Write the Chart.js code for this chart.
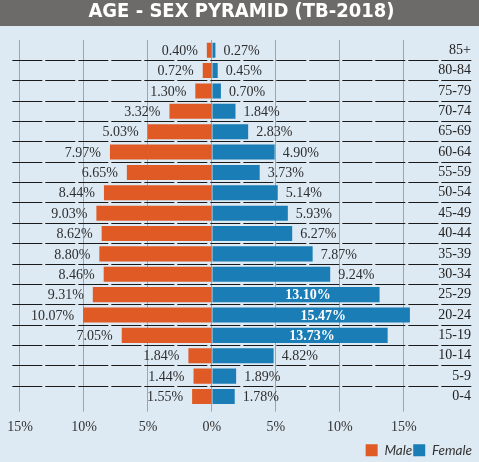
<!DOCTYPE html>
<html><head><meta charset="utf-8">
<script src="https://cdn.jsdelivr.net/npm/chart.js@4.4.0/dist/chart.umd.min.js"></script>
<style>html,body{margin:0;padding:0;background:#dde9f3;overflow:hidden}</style>
</head><body>
<canvas id="c" width="479" height="462" style="display:block;width:479px;height:462px"></canvas>
<script>
const ageGroups = ['85+','80-84','75-79','70-74','65-69','60-64','55-59','50-54','45-49','40-44','35-39','30-34','25-29','20-24','15-19','10-14','5-9','0-4'];
const maleValues = [0.40,0.72,1.30,3.32,5.03,7.97,6.65,8.44,9.03,8.62,8.80,8.46,9.31,10.07,7.05,1.84,1.44,1.55];
const femaleValues = [0.27,0.45,0.70,1.84,2.83,4.90,3.73,5.14,5.93,6.27,7.87,9.24,13.10,15.47,13.73,4.82,1.89,1.78];
const xTickValues = [-15,-10,-5,0,5,10,15];
const titleText = 'AGE - SEX PYRAMID (TB-2018)';

const MALE = '#e05a26', FEMALE = '#1a7db5';
const serif = "'Liberation Serif', 'DejaVu Serif', serif";

const background = {
  id: 'background',
  beforeDraw(chart) {
    const ctx = chart.ctx;
    ctx.save();
    ctx.fillStyle = '#dde9f3';
    ctx.fillRect(0, 0, chart.width, chart.height);
    ctx.fillStyle = '#6d6b69';
    ctx.fillRect(0, 0, chart.width, 26);
    ctx.restore();
  }
};

const valueLabels = {
  id: 'valueLabels',
  afterDatasetsDraw(chart) {
    const ctx = chart.ctx;
    ctx.save();
    ctx.textBaseline = 'middle';
    chart.data.datasets.forEach((ds, di) => {
      const meta = chart.getDatasetMeta(di);
      meta.data.forEach((bar, i) => {
        const v = Math.abs(ds.data[i]);
        const txt = v.toFixed(2) + '%';
        const y = bar.y + 1;
        if (di === 0) {
          ctx.font = '14px ' + serif;
          ctx.fillStyle = '#2e2e2e';
          ctx.textAlign = 'right';
          ctx.fillText(txt, bar.x - 9, y);
        } else if (v > 12) {
          ctx.font = 'bold 14px ' + serif;
          ctx.fillStyle = '#ffffff';
          ctx.textAlign = 'center';
          ctx.fillText(txt, (bar.x + bar.base) / 2 + 12, y);
        } else {
          ctx.font = '14px ' + serif;
          ctx.fillStyle = '#2e2e2e';
          ctx.textAlign = 'left';
          ctx.fillText(txt, bar.x + 8, y);
        }
      });
    });
    ctx.restore();
  }
};

new Chart(document.getElementById('c'), {
  type: 'bar',
  data: {
    labels: ageGroups,
    datasets: [
      { label: 'Male', data: maleValues.map(v => -v), backgroundColor: MALE, borderWidth: 0, barPercentage: 0.74, categoryPercentage: 1 },
      { label: 'Female', data: femaleValues, backgroundColor: FEMALE, borderWidth: 0, barPercentage: 0.74, categoryPercentage: 1 }
    ]
  },
  options: {
    indexAxis: 'y',
    responsive: false,
    animation: false,
    devicePixelRatio: 1,
    layout: { padding: { left: 10, right: 6, top: 0, bottom: -5 } },
    scales: {
      x: {
        type: 'linear', min: -15.6, max: 20.4, stacked: true,
        afterBuildTicks: s => { s.ticks = xTickValues.map(v => ({ value: v })); },
        grid: { color: '#9ea5ab', lineWidth: 1, tickLength: 5, drawTicks: true },
        border: { display: false },
        ticks: { callback: v => Math.abs(v) + '%', color: '#333', font: { family: serif, size: 14 }, padding: 7, maxRotation: 0 }
      },
      y: {
        type: 'category', position: 'right', stacked: true, offset: true,
        grid: {
          offset: true, drawTicks: false, lineWidth: 1,
          color: c => (c.type !== 'tick' || c.index === 0) ? 'rgba(0,0,0,0)' : '#1a1a1a'
        },
        border: { display: false, dash: [30, 3] },
        ticks: { mirror: true, padding: -2, color: '#222', font: { family: serif, size: 14 } }
      }
    },
    plugins: {
      title: {
        display: true, text: titleText, color: '#ffffff',
        font: { family: "'DejaVu Sans Condensed', 'DejaVu Sans', sans-serif", weight: 'bold', size: 20 },
        padding: { top: 0, bottom: 16 }
      },
      legend: {
        position: 'bottom', align: 'end',
        labels: { boxWidth: 12, boxHeight: 12, padding: 1, color: '#333', font: { family: 'Lato', style: 'italic', size: 13.5 } }
      },
      tooltip: { enabled: false }
    }
  },
  plugins: [background, valueLabels]
});
</script>
</body></html>
